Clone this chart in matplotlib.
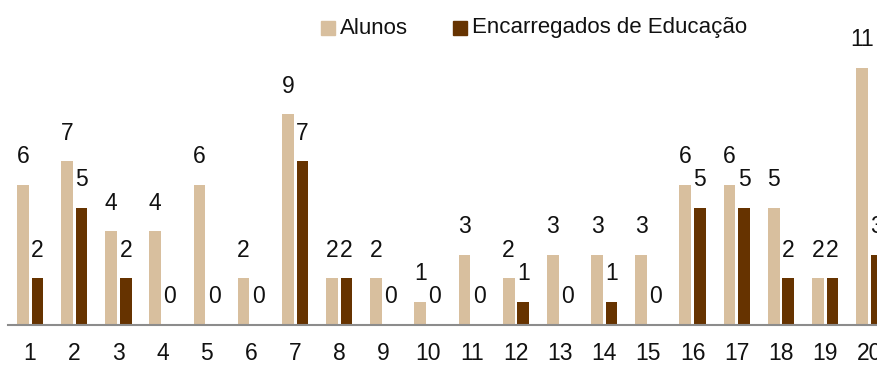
import matplotlib
matplotlib.use("Agg")
import matplotlib.pyplot as plt
from matplotlib.patches import Rectangle
import numpy as np

plt.rcParams['font.family'] = ['Liberation Sans', 'DejaVu Sans']

categories = [str(i) for i in range(1, 21)]
alunos = [6, 7, 4, 4, 6, 2, 9, 2, 2, 1, 3, 2, 3, 3, 3, 6, 6, 5, 2, 11]
encarregados = [2, 5, 2, 0, 0, 0, 7, 2, 0, 0, 0, 1, 0, 1, 0, 5, 5, 2, 2, 3]
series_names = ["Alunos", "Encarregados de Educação"]

col_alunos = "#D8BF9E"
col_enc = "#663300"
txt_col = "#111111"

W, H = 878, 367
fig = plt.figure(figsize=(W / 100, H / 100), dpi=100)

step = 44.17
left_px = 8
base_px = 325
unit_px = 23.4
ymax = 12
xmin, xmax = 0.5, 20.5
ax = fig.add_axes([left_px / W, (H - base_px) / H,
                   (xmax - xmin) * step / W, ymax * unit_px / H])

x = np.arange(1, len(categories) + 1)
bw = 0.265
off = 0.165
ax.bar(x - off, alunos, bw, color=col_alunos)
ax.bar(x + off, encarregados, bw, color=col_enc)

for xs, vals in ((x - off, alunos), (x + off, encarregados)):
    for xi, v in zip(xs, vals):
        ax.annotate(str(v), (xi, v), xytext=(0, 12), textcoords="offset points",
                    ha="center", va="bottom", fontsize=16.5, color=txt_col)

ax.set_xlim(xmin, xmax)
ax.set_ylim(0, ymax)
ax.set_xticks(x)
ax.set_xticklabels(categories, fontsize=16.5, color=txt_col)
ax.set_yticks([])
ax.tick_params(axis="x", length=0, pad=12)
for s in ("top", "right", "left"):
    ax.spines[s].set_visible(False)
ax.spines["bottom"].set_color("#8c8c8c")
ax.spines["bottom"].set_linewidth(1.5)
ax.patch.set_alpha(0)

# legend drawn as figure-level swatches and labels
legend_items = [(321, col_alunos, series_names[0]), (453, col_enc, series_names[1])]
for px, col, name in legend_items:
    fig.patches.append(Rectangle((px / W, 1 - 35 / H), 14 / W, 14 / H,
                                 transform=fig.transFigure, color=col))
    fig.text((px + 19) / W, 1 - 28 / H, name, ha="left", va="center",
             fontsize=16, color=txt_col)

fig.savefig("out.png", dpi=100)
